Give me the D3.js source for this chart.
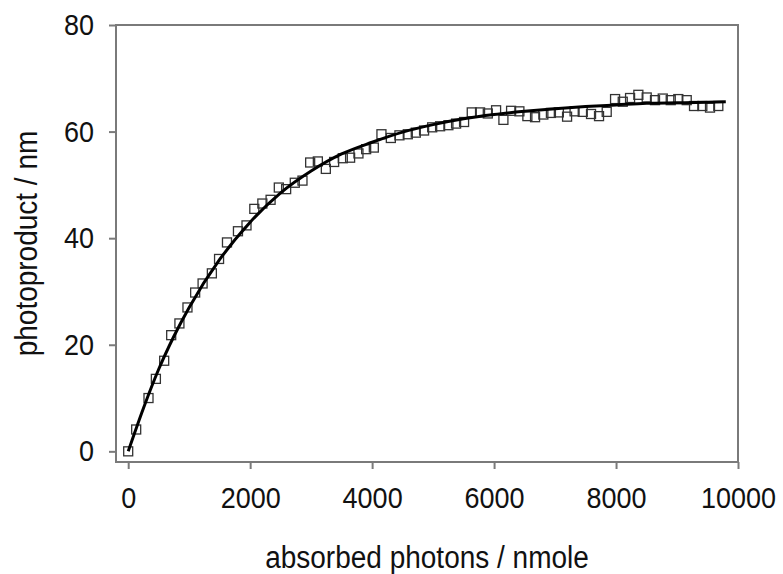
<!DOCTYPE html>
<html>
<head>
<meta charset="utf-8">
<script src="https://cdn.jsdelivr.net/npm/d3@7"></script>
<style>
  body { margin: 0; background: #fff; }
  text { font-family: "Liberation Sans", Arial, sans-serif; fill: #111; }
</style>
</head>
<body>
<div id="chart"></div>
<script>
// measured points (absorbed photons / nmole, photoproduct / nm)
var photons = [0, 131, 333, 454, 590, 705, 840, 972, 1098, 1220, 1372, 1490, 1620, 1800, 1940,
  2068, 2200, 2335, 2470, 2590, 2732, 2858, 2984, 3110, 3241, 3377, 3519, 3639, 3776, 3902,
  4028, 4153, 4307, 4448, 4585, 4716, 4852, 4985, 5115, 5251, 5377, 5508, 5634, 5770, 5897,
  6033, 6153, 6279, 6415, 6546, 6672, 6808, 6932, 7062, 7197, 7320, 7454, 7590, 7721, 7847,
  7984, 8110, 8230, 8366, 8503, 8639, 8766, 8897, 9021, 9159, 9279, 9415, 9541, 9677];
var product = [0, 4.1, 10.0, 13.6, 17.0, 21.8, 24.0, 27.0, 29.8, 31.5, 33.4, 36.1, 39.2, 41.3, 42.4,
  45.5, 46.5, 47.2, 49.5, 49.2, 50.4, 50.8, 54.2, 54.4, 53.0, 54.3, 55.0, 55.1, 55.9, 56.7,
  57.0, 59.5, 58.8, 59.3, 59.5, 59.8, 60.2, 60.8, 61.0, 61.2, 61.5, 61.8, 63.6, 63.6, 63.4,
  64.0, 62.2, 63.9, 63.8, 62.9, 62.7, 63.2, 63.5, 63.6, 62.8, 63.8, 63.7, 63.3, 62.9, 63.7,
  66.1, 65.6, 66.3, 66.9, 66.4, 65.9, 66.2, 65.9, 66.1, 65.9, 64.8, 64.8, 64.5, 64.8];

// fitted curve
var fitX = [0, 250, 500, 750, 1000, 1500, 2000, 2500, 3000, 3500, 4000, 4500, 5000, 5500,
  6000, 6500, 7000, 7500, 8000, 8500, 9000, 9500, 9800];
var fitY = [0, 8.1, 15.4, 21.6, 27.0, 36.0, 43.0, 48.5, 52.6, 55.8, 58.0, 59.9, 61.3, 62.4,
  63.2, 63.8, 64.3, 64.7, 65.0, 65.3, 65.4, 65.5, 65.6];

var xTicks = [0, 2000, 4000, 6000, 8000, 10000];
var yTicks = [0, 20, 40, 60, 80];

var svgWidth = 783;
var svgHeight = 574;

var margin = { top: 25, right: 45, bottom: 112, left: 116 };
var width = svgWidth - margin.left - margin.right;
var height = svgHeight - margin.top - margin.bottom;

// the original lettering is a little taller than Arial
var stretch = "scale(1, 1.1)";

var svg = d3.select("#chart")
  .append("svg")
  .attr("width", svgWidth)
  .attr("height", svgHeight);

var chartGroup = svg.append("g")
  .attr("transform", `translate(${margin.left}, ${margin.top})`);

var xScale = d3.scaleLinear()
  .domain([-200, 10000])
  .range([0, width]);

var yScale = d3.scaleLinear()
  .domain([-2, 80])
  .range([height, 0]);

var axisColor = "#7a7a7a";

// frame
chartGroup.append("rect")
  .attr("x", 0)
  .attr("y", 0)
  .attr("width", width)
  .attr("height", height)
  .attr("fill", "none")
  .attr("stroke", axisColor)
  .attr("stroke-width", 2);

var bottomAxis = d3.axisBottom(xScale)
  .tickValues(xTicks)
  .tickFormat(d3.format("d"))
  .tickSizeInner(7)
  .tickSizeOuter(0)
  .tickPadding(16);

var leftAxis = d3.axisLeft(yScale)
  .tickValues(yTicks)
  .tickSizeInner(7)
  .tickSizeOuter(0)
  .tickPadding(15);

var xAxisG = chartGroup.append("g")
  .attr("transform", `translate(0, ${height})`)
  .call(bottomAxis);

var yAxisG = chartGroup.append("g")
  .call(leftAxis);

[xAxisG, yAxisG].forEach(function(g) {
  g.select(".domain").remove();
  g.selectAll(".tick line")
    .attr("stroke", axisColor)
    .attr("stroke-width", 2);
  g.selectAll(".tick text")
    .attr("font-size", 27)
    .attr("font-family", "Liberation Sans, Arial, sans-serif")
    .attr("fill", "#111")
    .attr("transform", stretch);
});

// data squares
var pts = photons.map(function(d, i) { return { x: d, y: product[i] }; });

chartGroup.selectAll(".pt")
  .data(pts)
  .enter()
  .append("rect")
  .attr("class", "pt")
  .attr("x", d => xScale(d.x) - 4.5)
  .attr("y", d => yScale(d.y) - 4.5)
  .attr("width", 9)
  .attr("height", 9)
  .attr("fill", "none")
  .attr("stroke", "#333")
  .attr("stroke-width", 1.3);

// fit line
var fit = fitX.map(function(d, i) { return { x: d, y: fitY[i] }; });

var line = d3.line()
  .x(d => xScale(d.x))
  .y(d => yScale(d.y))
  .curve(d3.curveMonotoneX);

chartGroup.append("path")
  .datum(fit)
  .attr("d", line)
  .attr("fill", "none")
  .attr("stroke", "#000")
  .attr("stroke-width", 3);

// axis titles
chartGroup.append("text")
  .attr("transform", `translate(${width / 2}, ${height + 106}) ${stretch}`)
  .attr("text-anchor", "middle")
  .attr("font-size", 28)
  .text("absorbed photons / nmole");

chartGroup.append("text")
  .attr("transform", `translate(${37 - margin.left}, ${height / 2}) rotate(-90) ${stretch}`)
  .attr("text-anchor", "middle")
  .attr("font-size", 28)
  .text("photoproduct / nm");
</script>
</body>
</html>
